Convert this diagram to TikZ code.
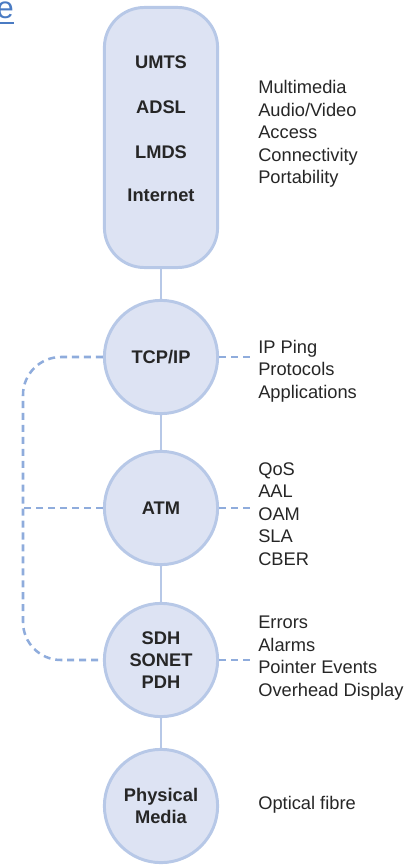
\documentclass[tikz,border=0pt]{standalone}
\usepackage{fontspec}
\setmainfont{Liberation Sans}
\usetikzlibrary{positioning}

\definecolor{layerfill}{HTML}{DDE3F3}
\definecolor{layerline}{HTML}{B7C8E7}
\definecolor{dashblue}{HTML}{8FACDC}
\definecolor{linkblue}{HTML}{4A7BC3}

\tikzset{
  stackbox/.style={rectangle, rounded corners=1cm, draw=layerline, fill=layerfill,
    line width=2.1pt, minimum width=2.83cm, minimum height=6.5cm, inner sep=0pt},
  layer/.style={circle, draw=layerline, fill=layerfill, line width=2.1pt,
    minimum size=2.83cm, inner sep=0pt, align=center,
    font=\fontsize{13}{15.6}\selectfont\bfseries, text=black!85},
  layertext/.style={inner sep=0pt, font=\fontsize{13}{15.6}\selectfont\bfseries, text=black!85},
  infotext/.style={anchor=west, align=left, inner sep=0pt,
    font=\fontsize{13}{16}\selectfont, text=black!85},
  stem/.style={draw=layerline, line width=2.1pt},
  dashlink/.style={draw=dashblue, line width=1.8pt, dash pattern=on 5pt off 3.5pt}
}

\begin{document}
\begin{tikzpicture}[x=0.025cm, y=-0.025cm]
  \useasboundingbox (0,0) rectangle (415,866);

  % cut-off link text in the corner
  \node[anchor=base east, inner sep=0pt, text=linkblue,
    font=\fontsize{22}{26}\selectfont] (elink) at (14,18.5) {e};
  \draw[linkblue, line width=1.2pt] (0,23.3) -- (14,23.3);

  % the layers
  \node[stackbox] (access) at (161,137.5) {};
  \node[layertext] (umts) at (161,62) {UMTS};
  \node[layertext] (adsl) at (161,107) {ADSL};
  \node[layertext] (lmds) at (161,152) {LMDS};
  \node[layertext] (inet) at (161,195) {Internet};

  \node[layer] (tcp) at (161,357) {TCP/IP};
  \node[layer] (atm) at (161,508) {ATM};
  \node[layer] (sdh) at (161,660) {SDH\\SONET\\PDH};
  \node[layer] (phys) at (161,806) {Physical\\Media};

  \draw[stem] (access) -- (tcp);
  \draw[stem] (tcp) -- (atm);
  \draw[stem] (atm) -- (sdh);
  \draw[stem] (sdh) -- (phys);

  % what is measured on each layer
  \node[infotext] (accessinfo) at (258,134) {Multimedia\\Audio/Video\\Access\\Connectivity\\Portability};
  \node[infotext] (tcpinfo) at (258,371) {IP Ping\\Protocols\\Applications};
  \node[infotext] (atminfo) at (258,514) {QoS\\AAL\\OAM\\SLA\\CBER};
  \node[infotext] (sdhinfo) at (258,658) {Errors\\Alarms\\Pointer Events\\Overhead Display};
  \node[infotext] (physinfo) at (258,805) {Optical fibre};

  \draw[dashlink, shorten >=3.5pt] (tcp) -- (tcp -| tcpinfo.west);
  \draw[dashlink, shorten >=3.5pt] (atm) -- (atm -| atminfo.west);
  \draw[dashlink, shorten >=3.5pt] (sdh) -- (sdh -| sdhinfo.west);

  % left bracket joining the layers
  \coordinate (bendtop) at (23,357);
  \coordinate (bendbot) at (23,660);
  \draw[dashlink, rounded corners=0.95cm] (tcp.west) -- (bendtop) -- (bendbot) -- (sdh.west);
  \draw[dashlink] (atm.west) -- (atm.west -| bendtop);
\end{tikzpicture}
\end{document}
